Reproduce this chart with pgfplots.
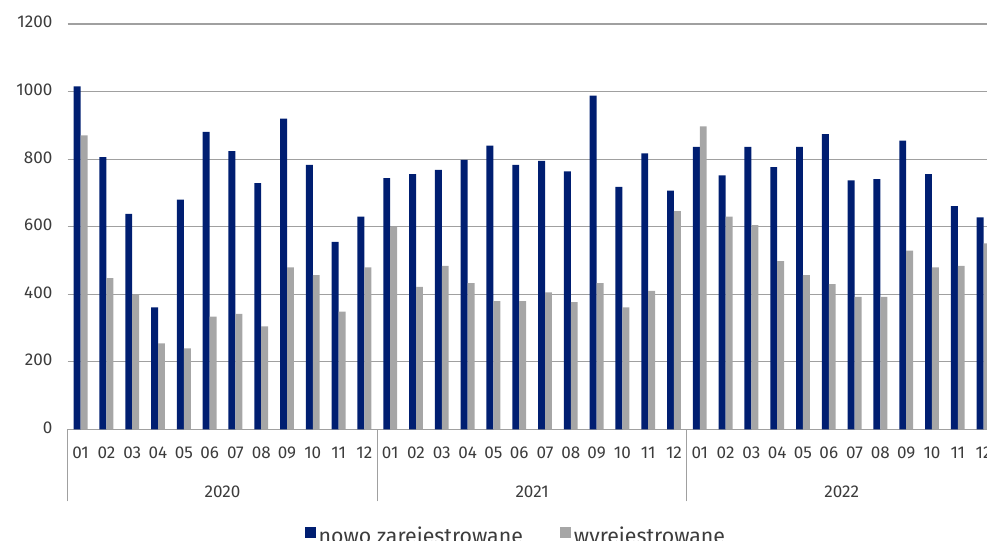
\documentclass[border=0pt]{standalone}
\usepackage{fontspec}
\setmainfont{Fira Sans}
\usepackage{pgfplots}
\usepackage{pgfplotstable}
\pgfplotsset{compat=1.18}

\definecolor{granat}{RGB}{0,30,113}
\definecolor{szary}{RGB}{166,166,166}
\definecolor{siatka}{RGB}{160,160,160}
\definecolor{tekst}{RGB}{60,60,60}

% miesiace 2020-01 .. 2022-12 (x = 0..35)
\pgfplotstableread{
x  nowe wyrej
0  1015 870
1  806  448
2  638  398
3  361  255
4  680  240
5  881  334
6  824  342
7  729  305
8  920  480
9  783  457
10 555  349
11 630  480
12 744  599
13 756  422
14 768  484
15 798  433
16 840  380
17 783  380
18 795  406
19 764  377
20 988  433
21 718  361
22 817  410
23 707  646
24 836  897
25 752  630
26 836  605
27 776  498
28 836  457
29 874  430
30 737  392
31 741  392
32 855  529
33 756  480
34 661  484
35 628  551
}\dane

\begin{document}
\begin{tikzpicture}
\begin{axis}[
    at={(0,0)}, anchor=south west,
    scale only axis,
    width=696.6pt, height=304.1pt,
    xmin=-0.5, xmax=35.5,
    ymin=0, ymax=1200,
    ybar=0pt, bar width=5.2pt,
    separate axis lines,
    axis x line*=bottom, axis y line*=left,
    x axis line style={siatka, line width=0.8pt},
    y axis line style={draw=none},
    ytick={0,200,...,1200},
    ymajorgrids,
    grid style={siatka, line width=0.9pt},
    major tick length=0pt,
    tick align=outside,
    xtick={0,...,35},
    xticklabels={01,02,03,04,05,06,07,08,09,10,11,12,
                 01,02,03,04,05,06,07,08,09,10,11,12,
                 01,02,03,04,05,06,07,08,09,10,11,12},
    minor xtick={-0.5,11.5,23.5,35.5},
    minor tick length=54pt,
    minor tick style={siatka, line width=0.8pt},
    extra x ticks={5.5,17.5,29.5},
    extra x tick labels={2020,2021,2022},
    extra x tick style={major tick length=0pt, xticklabel style={yshift=-29pt}},
    typeset ticklabels with strut,
    xticklabel style={yshift=-8pt},
    yticklabel style={xshift=-8pt},
    ticklabel style={font=\fontsize{12.8}{15}\selectfont, text=tekst},
    /pgf/number format/assume math mode=true,
    /pgf/number format/1000 sep={},
    legend style={at={(0.483,-0.227)}, anchor=north, draw=none,
        legend columns=2, font=\fontsize{16}{19}\selectfont,
        text=tekst,
        /tikz/every even column/.append style={column sep=26pt}},
    legend image code/.code={\fill[#1, draw=none] (0pt,-1pt) rectangle (8.3pt,7.3pt);},
]
\addplot[fill=granat, draw=none] table[x=x, y=nowe] {\dane};
\addplot[fill=szary, draw=none] table[x=x, y=wyrej] {\dane};
\legend{nowo zarejestrowane, wyrejestrowane}
\end{axis}
\pgfresetboundingbox
\useasboundingbox (-50.8pt,-83.6pt) rectangle (689.5pt,322.1pt);
\end{tikzpicture}
\end{document}
